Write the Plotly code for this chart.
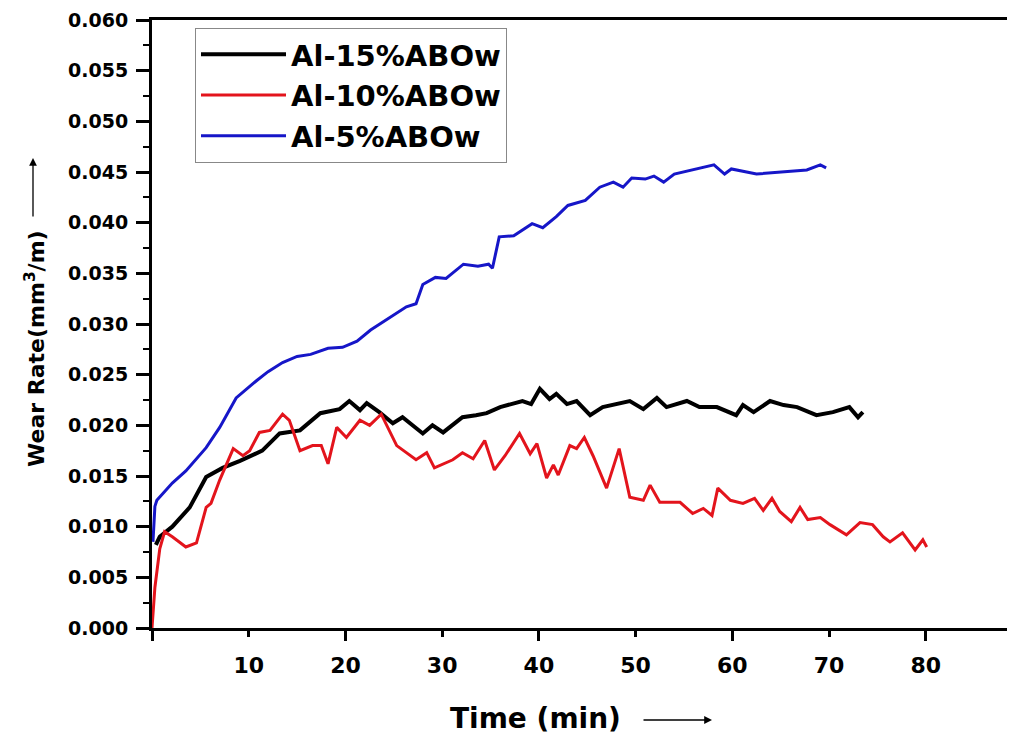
import plotly.graph_objects as go

# Al-15%ABOw
t15 = [0.4, 0.8, 2.1, 3.9, 5.6, 7.3, 9.1, 11.4, 13.2, 15.3, 17.4, 19.4, 20.4, 21.5, 22.2, 23.5,
       24.9, 25.9, 28.0, 29.0, 30.1, 30.8, 32.1, 33.5, 34.6, 36.0, 38.3, 39.2, 40.1, 41.1, 41.8,
       42.9, 43.9, 45.3, 46.6, 49.4, 50.8, 52.2, 53.2, 55.3, 56.6, 58.4, 60.4, 61.1, 62.2, 63.9,
       65.3, 66.7, 68.7, 70.4, 72.1, 73.0, 73.5]
w15 = [0.0082, 0.0090, 0.0100, 0.0119, 0.0149, 0.0158, 0.0165, 0.0175, 0.0192, 0.0195, 0.0212,
       0.0216, 0.0224, 0.0215, 0.0222, 0.0213, 0.0202, 0.0208, 0.0192, 0.0200, 0.0193, 0.0198,
       0.0208, 0.0210, 0.0212, 0.0218, 0.0224, 0.0221, 0.0236, 0.0226, 0.0231, 0.0221, 0.0224,
       0.0210, 0.0218, 0.0224, 0.0216, 0.0227, 0.0218, 0.0224, 0.0218, 0.0218, 0.0210, 0.0220,
       0.0213, 0.0224, 0.0220, 0.0218, 0.0210, 0.0213, 0.0218, 0.0208, 0.0213]

# Al-10%ABOw
t10 = [0.0, 0.3, 0.8, 1.3, 2.1, 3.5, 4.6, 5.6, 6.1, 7.0, 8.4, 9.4, 10.1, 11.1, 12.2, 13.5, 14.2,
       15.3, 16.6, 17.5, 18.2, 19.1, 20.1, 21.5, 22.5, 23.7, 25.3, 27.3, 28.4, 29.2, 31.1, 32.1,
       33.2, 34.4, 35.4, 36.5, 38.0, 39.1, 39.8, 40.8, 41.5, 42.0, 43.2, 43.9, 44.7, 45.6, 47.0,
       48.3, 49.4, 50.8, 51.5, 52.5, 54.6, 55.9, 57.0, 57.9, 58.5, 59.8, 61.1, 62.3, 63.2, 64.1,
       64.9, 66.1, 67.0, 67.8, 69.1, 70.1, 71.8, 73.2, 74.5, 75.6, 76.3, 77.6, 78.9, 79.7, 80.1]
w10 = [0.0000, 0.0040, 0.0078, 0.0095, 0.0090, 0.0080, 0.0084, 0.0119, 0.0123, 0.0146, 0.0177,
       0.0170, 0.0175, 0.0193, 0.0195, 0.0211, 0.0205, 0.0175, 0.0180, 0.0180, 0.0162, 0.0198,
       0.0188, 0.0205, 0.0200, 0.0211, 0.0180, 0.0166, 0.0173, 0.0158, 0.0166, 0.0173, 0.0167,
       0.0185, 0.0156, 0.0170, 0.0192, 0.0172, 0.0182, 0.0148, 0.0161, 0.0151, 0.0180, 0.0177,
       0.0188, 0.0170, 0.0138, 0.0177, 0.0129, 0.0126, 0.0141, 0.0124, 0.0124, 0.0113, 0.0118,
       0.0111, 0.0138, 0.0126, 0.0123, 0.0128, 0.0116, 0.0128, 0.0115, 0.0105, 0.0119, 0.0107,
       0.0109, 0.0102, 0.0092, 0.0104, 0.0102, 0.0090, 0.0085, 0.0094, 0.0077, 0.0087, 0.0080]

# Al-5%ABOw
t5 = [0.1, 0.3, 0.5, 2.1, 3.5, 5.6, 7.0, 8.7, 10.8, 12.0, 13.5, 15.0, 16.4, 18.2, 19.7, 21.2,
      22.6, 24.9, 26.3, 27.3, 28.0, 29.3, 30.4, 32.2, 33.7, 34.8, 35.2, 35.9, 37.4, 39.3, 40.4,
      41.8, 43.0, 44.8, 46.3, 47.7, 48.7, 49.6, 51.0, 51.9, 52.9, 54.0, 55.9, 58.1, 59.2, 59.9,
      62.5, 65.1, 67.7, 69.1, 69.7]
w5 = [0.0085, 0.0120, 0.0126, 0.0143, 0.0155, 0.0178, 0.0198, 0.0227, 0.0244, 0.0253, 0.0262,
      0.0268, 0.0270, 0.0276, 0.0277, 0.0283, 0.0294, 0.0308, 0.0317, 0.0320, 0.0339, 0.0346,
      0.0345, 0.0359, 0.0357, 0.0359, 0.0355, 0.0386, 0.0387, 0.0399, 0.0395, 0.0406, 0.0417,
      0.0422, 0.0435, 0.0440, 0.0435, 0.0444, 0.0443, 0.0446, 0.0440, 0.0448, 0.0452, 0.0457,
      0.0448, 0.0453, 0.0448, 0.0450, 0.0452, 0.0457, 0.0454]

x_labels = [10, 20, 30, 40, 50, 60, 70, 80]

FONT = 'DejaVu Sans'

# page body has an 8px margin, so the figure is a bit smaller than the window
W, H = 999, 726
L, T, B = 144, 12, 106
PW, PH = W - L, H - T - B


def px(sx):  # screen x -> paper x
    return (sx - 8 - L) / PW


def py(sy):  # screen y -> paper y
    return (H - B - (sy - 8)) / PH


fig = go.Figure()
fig.add_trace(go.Scatter(x=t15, y=w15, mode='lines', name='<b>Al-15%ABOw</b>', legendgroup='a',
                         line=dict(color='#000000', width=4)))
fig.add_trace(go.Scatter(x=t10, y=w10, mode='lines', name='<b>Al-10%ABOw</b>', legendgroup='b',
                         line=dict(color='#e3141c', width=3)))
fig.add_trace(go.Scatter(x=t5, y=w5, mode='lines', name='<b>Al-5%ABOw</b>', legendgroup='c',
                         line=dict(color='#1616c8', width=3)))

xr = [0, 88.4]
fig.update_layout(
    width=W, height=H,
    margin=dict(l=L, r=0, t=T, b=B, autoexpand=False),
    plot_bgcolor='white', paper_bgcolor='white',
    font=dict(family=FONT, color='black'),
    showlegend=True,
    legend=dict(x=px(195), y=py(28), xanchor='left', yanchor='top',
                bordercolor='#888888', borderwidth=1, bgcolor='white',
                font=dict(size=29, family=FONT), itemwidth=85,
                traceorder='grouped', tracegroupgap=0),
    xaxis=dict(range=xr, tickmode='array', tickvals=x_labels, automargin=False,
               ticktext=['<b>%d</b>' % v for v in x_labels],
               ticks='outside', ticklen=6, tickwidth=3, tickcolor='black',
               showline=True, linewidth=3, linecolor='black', mirror=True,
               showgrid=False, zeroline=False, ticklabelstandoff=10,
               tickfont=dict(size=22, family=FONT)),
    xaxis2=dict(range=xr, overlaying='x', side='bottom', tickmode='array', automargin=False,
                tickvals=[0, 20, 40, 60, 80], ticks='outside', ticklen=12, tickwidth=3,
                tickcolor='black', showticklabels=False, showgrid=False, zeroline=False,
                showline=False),
    yaxis=dict(range=[0, 0.060], dtick=0.005, tickformat='.3f', automargin=False,
               ticks='outside', ticklen=13, tickwidth=3, tickcolor='black',
               minor=dict(dtick=0.0025, ticks='outside', ticklen=6, tickwidth=2, tickcolor='black'),
               showline=True, linewidth=3, linecolor='black', mirror=False,
               showgrid=False, zeroline=False, ticklabelstandoff=4,
               ticklabeloverflow='allow',
               tickfont=dict(size=19, family=FONT)),
)
fig.update_yaxes(tickprefix='<b>', ticksuffix='</b>')

# dummy trace so xaxis2 gets drawn
fig.add_trace(go.Scatter(x=[None], y=[None], xaxis='x2', showlegend=False, hoverinfo='skip'))

# axis titles with arrows
fig.add_annotation(text='<b>Time (min)</b>', xref='paper', yref='paper',
                   x=px(535), y=py(718), xanchor='center', yanchor='middle', showarrow=False,
                   font=dict(size=28, family=FONT))
fig.add_annotation(text='', xref='paper', yref='paper', axref='pixel', ayref='pixel',
                   x=px(712), y=py(720), ax=-70, ay=0,
                   showarrow=True, arrowhead=2, arrowsize=1.2, arrowwidth=1.3, arrowcolor='black')
fig.add_annotation(text='<b>Wear Rate(mm<sup>3</sup>/m)</b>', xref='paper', yref='paper',
                   x=px(35), y=py(348), xanchor='center', yanchor='middle',
                   showarrow=False, textangle=-90,
                   font=dict(size=22, family=FONT))
fig.add_annotation(text='', xref='paper', yref='paper', axref='pixel', ayref='pixel',
                   x=px(33), y=py(158), ax=0, ay=60,
                   showarrow=True, arrowhead=2, arrowsize=1.2, arrowwidth=1.3, arrowcolor='black')

fig.write_html("out.html")
